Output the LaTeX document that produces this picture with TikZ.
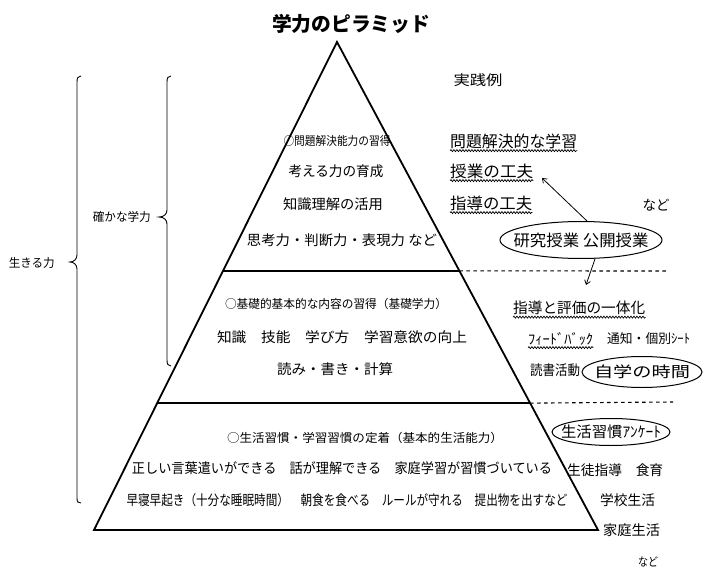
\documentclass[tikz,border=0pt]{standalone}
\usepackage{fontspec}
\setmainfont{Noto Sans CJK JP}
\usepackage{graphicx}
\usetikzlibrary{shapes.geometric,decorations.pathmorphing,arrows.meta,calc}
\newcommand\fw[2]{\resizebox{#1}{\height}{#2}}
\begin{document}
\begin{tikzpicture}[x=1pt,y=-1pt,
  txt/.style={inner sep=0pt, font=\fontsize{14}{16}\selectfont},
  smalltxt/.style={inner sep=0pt, font=\fontsize{12}{14}\selectfont},
  bigtxt/.style={inner sep=0pt, font=\fontsize{16}{18}\selectfont},
  oval/.style={draw, ellipse, line width=1pt, inner sep=0pt},
  wavy/.style={decorate, decoration={snake, amplitude=1pt, segment length=3pt}, line width=0.7pt},
  arr/.style={line width=0.8pt, -{Straight Barb[length=4pt,width=6pt]}},
  pyr/.style={line width=1.8pt, line join=miter},
  tier/.style={line width=1.5pt},
  dashline/.style={dashed, dash pattern=on 3.5pt off 3.5pt, line width=1.1pt},
  bracestyle/.style={line width=0.9pt}]
\useasboundingbox (0,0) rectangle (704,572);

% title
\node[inner sep=0pt, font=\fontsize{20}{22}\selectfont\bfseries] (title) at (351,24) {\fw{158pt}{学力のピラミッド}};

% pyramid
\coordinate (A) at (337,42);
\coordinate (BL) at (94,530);
\coordinate (BR) at (598,530);
\draw[pyr] (A) -- (BL) -- (BR) -- cycle;
\coordinate (L1) at ($(A)!0.469!(BL)$);
\coordinate (R1) at ($(A)!0.469!(BR)$);
\coordinate (L2) at ($(A)!0.740!(BL)$);
\coordinate (R2) at ($(A)!0.740!(BR)$);
\coordinate (D1) at (667,271);
\coordinate (D2) at (673,402);
\draw[tier] (L1) -- (R1);
\draw[tier] (L2) -- (R2);
\draw[dashline] (R1) -- (D1);
\draw[dashline] (R2) -- (D2);

% top tier
\node[smalltxt] (t1) at (337,141) {\fw{107pt}{○問題解決能力の習得}};
\node[txt] (t2) at (336,171) {\fw{95pt}{考える力の育成}};
\node[txt] (t3) at (333,204) {\fw{100pt}{知識理解の活用}};
\node[txt] (t4) at (342,240) {\fw{190pt}{思考力・判断力・表現力\ など}};

% middle tier
\node[smalltxt] (m1) at (336,304) {\fw{222pt}{○基礎的基本的な内容の習得（基礎学力）}};
\node[txt] (m2) at (342,337) {\fw{250pt}{知識　技能　学び方　学習意欲の向上}};
\node[txt] (m3) at (335,369) {\fw{116pt}{読み・書き・計算}};

% bottom tier
\node[smalltxt] (b1) at (365,438) {\fw{276pt}{○生活習慣・学習習慣の定着（基本的生活能力）}};
\node[txt] (b2) at (342,468) {\fw{420pt}{正しい言葉遣いができる　話が理解できる　家庭学習が習慣づいている}};
\node[txt] (b3) at (347,500) {\fw{441pt}{早寝早起き（十分な睡眠時間）　朝食を食べる　ルールが守れる　提出物を出すなど}};

% right column
\node[txt] (r0) at (478,80) {\fw{49pt}{実践例}};
\node[bigtxt, anchor=west] (r1) at (450,141) {\fw{127pt}{問題解決的な学習}};
\node[bigtxt, anchor=west] (r2) at (450,171) {\fw{83pt}{授業の工夫}};
\node[bigtxt, anchor=west] (r3) at (450,203) {\fw{82pt}{指導の工夫}};
\node[txt] (r4) at (656,205) {\fw{27pt}{など}};
\draw[wavy] ([yshift=-2pt]r1.south west) -- ([yshift=-2pt]r1.south east);
\draw[wavy] ([yshift=-2pt]r2.south west) -- ([yshift=-2pt]r2.south east);
\draw[wavy] ([yshift=-2pt]r3.south west) -- ([yshift=-2pt]r3.south east);

\node[oval, minimum width=162pt, minimum height=37pt] (e1) at (581,240) {};
\node[bigtxt] (e1t) at (e1) {\fw{135pt}{研究授業 公開授業}};
\coordinate (a1) at (542,178);
\coordinate (a2) at (586,285);
\draw[arr] ([xshift=6pt]e1.north) -- (a1);
\draw[arr] ([xshift=14pt]e1.south) -- (a2);

\node[inner sep=0pt, font=\fontsize{15}{17}\selectfont, anchor=west] (rm1) at (513,308) {\fw{132pt}{指導と評価の一体化}};
\draw[wavy] ([yshift=-2pt]rm1.south west) -- ([yshift=-2pt]rm1.south east);
\node[txt, anchor=west] (rm2) at (528,339) {\fw{65pt}{ﾌｨｰﾄﾞﾊﾞｯｸ}};
\draw[wavy] ([yshift=-2pt]rm2.south west) -- ([yshift=-2pt]rm2.south east);
\node[inner sep=0pt, font=\fontsize{13}{15}\selectfont, anchor=west] (rm3) at (607,339) {\fw{83pt}{通知・個別ｼｰﾄ}};
\node[txt, anchor=west] (rm4) at (530,370) {\fw{50pt}{読書活動}};
\node[oval, minimum width=120pt, minimum height=31pt] (e2) at (642,372) {};
\node[inner sep=0pt, font=\fontsize{15}{17}\selectfont] (e2t) at (e2) {\fw{96pt}{自学の時間}};

\node[oval, minimum width=118pt, minimum height=27pt] (e3) at (611,432) {};
\node[inner sep=0pt, font=\fontsize{15}{17}\selectfont] (e3t) at (e3) {\fw{100pt}{生活習慣ｱﾝｹｰﾄ}};
\node[txt, anchor=west] (rb1) at (567,470) {\fw{96pt}{生徒指導　食育}};
\node[txt, anchor=west] (rb2) at (600,500) {\fw{55pt}{学校生活}};
\node[txt, anchor=west] (rb3) at (603,530) {\fw{57pt}{家庭生活}};
\node[smalltxt, anchor=west] (rb4) at (638,562) {\fw{20pt}{など}};

% braces
\draw[bracestyle] (81,76) .. controls (78,76) and (77,78) .. (77,82) -- (77,255)
  .. controls (77,259) and (74,262) .. (70,262)
  .. controls (74,262) and (77,265) .. (77,269) -- (77,498)
  .. controls (77,502) and (78,503) .. (81,503);
\draw[bracestyle] (171,76) .. controls (168,76) and (167,78) .. (167,82) -- (167,210)
  .. controls (167,214) and (164,217) .. (159,217)
  .. controls (164,217) and (167,220) .. (167,224) -- (167,360)
  .. controls (167,364) and (168,366) .. (171,366);
\node[smalltxt, anchor=east] (lb1) at (151,217) {\fw{58pt}{確かな学力}};
\node[smalltxt, anchor=east] (lb2) at (55,263) {\fw{46pt}{生きる力}};
\end{tikzpicture}
\end{document}
